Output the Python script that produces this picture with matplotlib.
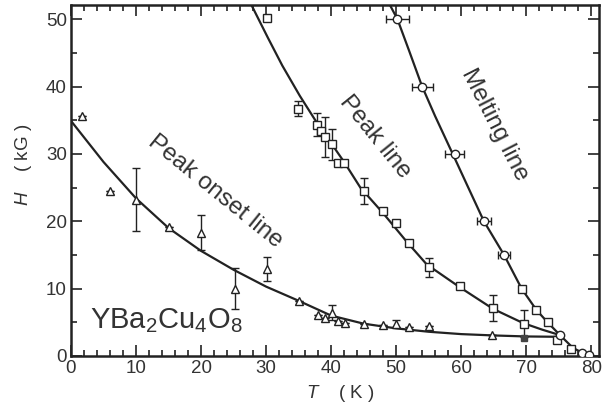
import matplotlib
matplotlib.use('Agg')
import matplotlib.pyplot as plt
from matplotlib.ticker import MultipleLocator

plt.rcParams['font.family'] = ['Liberation Sans', 'DejaVu Sans']
plt.rcParams['mathtext.fontset'] = 'custom'
plt.rcParams['mathtext.rm'] = 'Liberation Sans'
plt.rcParams['mathtext.it'] = 'Liberation Sans:italic'

# fitted lines
melt_T = [49.1, 50.2, 52.0, 54.0, 56.0, 58.7, 61.0, 63.5, 66.6, 69.3, 71.6, 73.3, 75.2, 77.2, 78.8, 79.8]
melt_H = [52.0, 50.0, 45.3, 40.0, 35.6, 30.0, 25.2, 20.0, 15.0, 10.0, 6.8, 5.0, 3.1, 1.2, 0.4, 0.0]

peak_T = [27.8, 30.3, 32.5, 35.2, 37.5, 40.0, 42.0, 44.5, 48.0, 51.6, 54.7, 59.8, 64.9, 69.5, 72.5, 75.2]
peak_H = [52.0, 47.2, 43.1, 38.6, 35.1, 31.6, 28.8, 25.0, 21.2, 17.0, 13.6, 10.2, 7.0, 4.9, 3.9, 3.1]

onset_T = [0, 5, 10, 15, 20, 25, 30, 35, 40, 45, 50, 55, 60, 65, 70, 75]
onset_H = [34.9, 28.8, 23.4, 19.0, 15.6, 12.8, 10.3, 8.2, 6.0, 4.8, 4.1, 3.6, 3.25, 3.05, 2.9, 2.85]

# peak onset (triangles)
tri_T = [1.7, 6.0, 10.0, 15.0, 20.0, 25.2, 30.1, 35.1, 38.0, 39.0, 40.1, 41.0, 42.1, 45.0, 48.0, 50.0, 52.0, 55.0, 64.8]
tri_H = [35.6, 24.5, 23.2, 19.2, 18.3, 10.0, 12.9, 8.2, 6.1, 5.6, 6.4, 5.2, 4.9, 4.7, 4.6, 4.8, 4.35, 4.5, 3.1]
tri_err = [0, 0, 4.7, 0, 2.6, 3.0, 1.8, 0, 0, 0, 1.1, 0, 0, 0, 0, 0.5, 0, 0, 0]

# peak (squares)
sq_T = [30.1, 34.9, 37.9, 38.4, 39.0, 40.1, 41.0, 42.0, 45.0, 48.0, 50.0, 52.0, 55.0, 59.8, 64.9, 69.6,
        69.3, 71.5, 73.3, 74.7, 76.9]
sq_H = [50.1, 36.7, 34.3, 33.4, 32.5, 31.4, 28.7, 28.6, 24.5, 21.5, 19.7, 16.7, 13.2, 10.4, 7.1, 4.8,
        10.0, 6.9, 5.0, 2.4, 1.0]
sq_err = [0, 1.1, 1.7, 0, 3.0, 2.3, 0, 0, 1.9, 0, 0, 0, 1.4, 0, 1.9, 2.0,
          0, 0, 0, 0, 0]

# filled point at 70 K
dark_T = [69.7]
dark_H = [2.6]

# melting (circles, horizontal error bars)
circ_T = [50.2, 54.0, 59.0, 63.5, 66.6, 75.2, 78.6, 79.7]
circ_H = [50.0, 40.0, 30.0, 20.0, 15.0, 3.1, 0.5, 0.15]
circ_xerr = [1.75, 1.6, 1.5, 1.1, 0.9, 0, 0, 0]

ink = '#222222'
txt = '#333333'

fig = plt.figure(figsize=(6.04, 4.08), dpi=100)
ax = fig.add_axes([71 / 604, 52 / 408, 528 / 604, 351 / 408])

ax.plot(melt_T, melt_H, color=ink, lw=1.6, zorder=2)
ax.plot(peak_T, peak_H, color=ink, lw=1.6, zorder=2)
ax.plot(onset_T, onset_H, color=ink, lw=1.6, zorder=2)

ax.errorbar(tri_T, tri_H, yerr=tri_err, fmt='^', ms=5.5, mfc='white', mec=ink, mew=1.0,
            ecolor=ink, elinewidth=1.0, capsize=3, capthick=1.0, zorder=3)
ax.errorbar(sq_T, sq_H, yerr=sq_err, fmt='s', ms=5.5, mfc='white', mec=ink, mew=1.0,
            ecolor=ink, elinewidth=1.0, capsize=3, capthick=1.0, zorder=3)
ax.errorbar(circ_T, circ_H, xerr=circ_xerr, fmt='o', ms=6, mfc='white', mec=ink, mew=1.0,
            ecolor=ink, elinewidth=1.0, capsize=3, capthick=1.0, zorder=4)
ax.plot(dark_T, dark_H, 's', ms=4.5, color='#444444', zorder=4)

ax.set_xlim(0, 81.2)
ax.set_ylim(0, 52.1)
ax.xaxis.set_major_locator(MultipleLocator(10))
ax.xaxis.set_minor_locator(MultipleLocator(2))
ax.yaxis.set_major_locator(MultipleLocator(10))
ax.yaxis.set_minor_locator(MultipleLocator(5))
ax.tick_params(which='both', direction='in', top=True, right=True, width=1.2, colors=ink,
               labelcolor=txt, labelsize=13.5)
ax.tick_params(which='major', length=8, pad=3)
ax.tick_params(which='minor', length=4.5)
for s in ax.spines.values():
    s.set_linewidth(1.8)
    s.set_color(ink)

ax.set_xlabel(r'$T$    ( K )', fontsize=13.5, color=txt)
ax.set_ylabel(r'$H$    ( kG )', fontsize=13.5, color=txt)
ax.xaxis.set_label_coords(0.51, -0.078)
ax.yaxis.set_label_coords(-0.07, 0.545)

ax.text(22.2, 24.4, 'Peak onset line', rotation=-39, fontsize=17.5, color=txt,
        ha='center', va='center', rotation_mode='anchor')
ax.text(46.8, 32.5, 'Peak line', rotation=-51, fontsize=17.5, color=txt,
        ha='center', va='center', rotation_mode='anchor')
ax.text(65.2, 34.3, 'Melting line', rotation=-63, fontsize=17.5, color=txt,
        ha='center', va='center', rotation_mode='anchor')
ax.text(2.9, 5.3, r'YBa$_2$Cu$_4$O$_8$', fontsize=21, color=txt, ha='left', va='center')

fig.savefig('out.png', dpi=100)
